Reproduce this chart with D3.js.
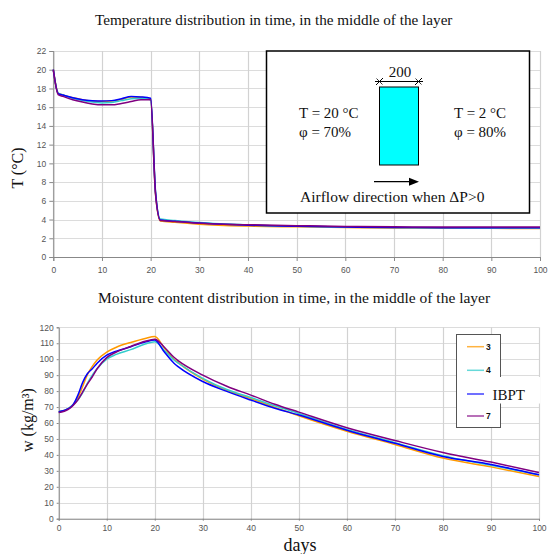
<!DOCTYPE html>
<html>
<head>
<meta charset="utf-8">
<script src="https://cdn.jsdelivr.net/npm/d3@7/dist/d3.min.js"></script>
<style>
  html, body { margin: 0; padding: 0; background: #fff; }
  svg { display: block; }
  .tick text { font-family: "Liberation Sans", Arial, sans-serif; font-size: 8.5px; fill: #555; }
  .serif { font-family: "Liberation Serif", "Times New Roman", serif; fill: #111; }
</style>
</head>
<body>
<svg id="chart" width="548" height="554"></svg>
<script>
// ---- Data ----------------------------------------------------------------
const seriesNames = ["3", "4", "IBPT", "7"];
const seriesColors = ["#ff9900", "#33cccc", "#0000ff", "#800080"];

// Temperature in the middle of the layer (°C)
const tempDays = [0, 1, 2, 4, 6, 8, 10, 12, 14, 16, 18, 20, 21, 22, 25, 30, 40, 50, 60, 70, 80, 90, 100];
const temp3    = [20, 17.5, 17.3, 17.0, 16.8, 16.65, 16.6, 16.65, 16.85, 17.1, 17.05, 16.85, 6.8, 3.85, 3.7, 3.5, 3.3, 3.22, 3.15, 3.1, 3.08, 3.06, 3.05];
const temp4    = [20, 17.5, 17.3, 16.95, 16.7, 16.55, 16.45, 16.5, 16.7, 16.9, 16.95, 16.8, 6.9, 4.05, 3.9, 3.68, 3.42, 3.28, 3.2, 3.15, 3.12, 3.1, 3.1];
const tempIBPT = [20, 17.45, 17.3, 17.0, 16.8, 16.7, 16.65, 16.7, 16.9, 17.15, 17.1, 16.95, 7.0, 3.95, 3.82, 3.62, 3.4, 3.28, 3.2, 3.15, 3.13, 3.12, 3.12];
const temp7    = [20, 17.35, 17.15, 16.8, 16.55, 16.35, 16.25, 16.25, 16.4, 16.6, 16.8, 16.8, 6.7, 3.9, 3.8, 3.6, 3.45, 3.35, 3.27, 3.22, 3.2, 3.2, 3.2];

// Moisture content in the middle of the layer (kg/m³)
const moistDays = [0, 2, 3, 4, 5, 6, 7, 8, 10, 12, 15, 18, 20, 22, 24, 25, 30, 35, 40, 45, 50, 60, 70, 80, 90, 100];
const moist3    = [67, 69, 71.5, 76, 83, 90.5, 95.5, 99.5, 104.5, 107.5, 110.5, 113, 114.2, 107, 100, 97.5, 87.5, 80.5, 75.3, 69.8, 64.5, 54.8, 46.5, 38, 32.5, 26.5];
const moist4    = [67, 69, 71.5, 74.5, 79, 85, 90, 94, 100, 103, 106, 109.5, 111, 105.5, 99.5, 97.3, 88, 81, 76, 70.8, 66, 56, 47.7, 39.5, 33.5, 27.5];
const moistIBPT = [67, 69, 71.5, 77.5, 85.5, 91, 94, 97.5, 102.5, 105, 107.8, 110.8, 112, 104.5, 97.5, 95, 86, 79.8, 74.4, 69.3, 65, 55.5, 47.3, 39, 34, 27.5];
const moist7    = [66.5, 68.5, 71, 74.5, 79.5, 84.5, 89, 94, 101, 104.5, 108, 111.2, 112.5, 107.5, 101.2, 98.8, 90, 83, 77.5, 71.8, 66.8, 57, 49, 41.5, 35.5, 29];

const tempTicks  = d3.range(0, 23, 2);
const moistTicks = d3.range(0, 121, 10);
const dayTicks   = d3.range(0, 101, 10);

// ---- Setup ---------------------------------------------------------------
const svg = d3.select("#chart");
svg.append("rect").attr("width", 548).attr("height", 554).attr("fill", "#fff");

function drawPanel(opts) {
  const { x, y, yTicks, xLabelDy, yLabelGap, tickLen } = opts;
  const g = svg.append("g");

  // horizontal gridlines
  g.append("g").selectAll("line").data(yTicks).join("line")
    .attr("x1", x.range()[0]).attr("x2", x.range()[1])
    .attr("y1", d => Math.round(y(d)) + 0.5).attr("y2", d => Math.round(y(d)) + 0.5)
    .attr("stroke", "#dcdcdc").attr("stroke-width", 1);
  // vertical gridlines
  g.append("g").selectAll("line").data(dayTicks).join("line")
    .attr("x1", d => Math.round(x(d)) + 0.5).attr("x2", d => Math.round(x(d)) + 0.5)
    .attr("y1", y.range()[0]).attr("y2", y.range()[1])
    .attr("stroke", "#d2d2d2").attr("stroke-width", 1.2);

  // axes
  const xAxis = d3.axisBottom(x).tickValues(dayTicks).tickSize(tickLen).tickPadding(xLabelDy);
  const yAxis = d3.axisLeft(y).tickValues(yTicks).tickSize(tickLen).tickPadding(yLabelGap);
  const gx = g.append("g").attr("transform", `translate(0,${y.range()[0]})`).call(xAxis);
  const gy = g.append("g").attr("transform", `translate(${x.range()[0]},0)`).call(yAxis);
  [gx, gy].forEach(a => {
    a.select(".domain").attr("stroke", "#888");
    a.selectAll(".tick line").attr("stroke", "#888");
  });
  return g;
}

function drawLines(x, y, days, seriesList) {
  const line = d3.line().x((d, i) => x(days[i])).y(d => y(d)).curve(d3.curveMonotoneX);
  const g = svg.append("g").attr("fill", "none");
  seriesList.forEach((vals, k) => {
    g.append("path").attr("d", line(vals))
      .attr("stroke", seriesColors[k]).attr("stroke-width", 1.5)
      .attr("stroke-linejoin", "round");
  });
}

// ---- Temperature panel --------------------------------------------------
const xT = d3.scaleLinear().domain([0, 100]).range([53.3, 540]);
const yT = d3.scaleLinear().domain([0, 22]).range([257, 51]);
drawPanel({ x: xT, y: yT, yTicks: tempTicks, xLabelDy: 6, yLabelGap: 3, tickLen: 4 });
drawLines(xT, yT, tempDays, [temp3, temp4, tempIBPT, temp7]);

svg.append("text").attr("class", "serif").attr("x", 95).attr("y", 25)
  .attr("font-size", 15.2).text("Temperature distribution in time, in the middle of the layer");
svg.append("text").attr("class", "serif").attr("font-size", 16)
  .attr("text-anchor", "middle")
  .attr("transform", "translate(23,168) rotate(-90)")
  .text("T (°C)");

// Inset sketch of the layer and boundary conditions
const inset = svg.append("g");
inset.append("rect").attr("x", 266.5).attr("y", 51).attr("width", 263).attr("height", 162)
  .attr("fill", "#fff").attr("stroke", "#000").attr("stroke-width", 1.5);
inset.append("rect").attr("x", 379.5).attr("y", 87).attr("width", 39).attr("height", 78)
  .attr("fill", "#00ffff").attr("stroke", "#000").attr("stroke-width", 1);
// dimension line
inset.append("line").attr("x1", 375).attr("x2", 423).attr("y1", 81.5).attr("y2", 81.5)
  .attr("stroke", "#000").attr("stroke-width", 1);
[379.5, 418.5].forEach(cx => {
  inset.append("line").attr("x1", cx - 3.5).attr("x2", cx + 3.5).attr("y1", 85).attr("y2", 78)
    .attr("stroke", "#000").attr("stroke-width", 1);
  inset.append("line").attr("x1", cx - 3).attr("x2", cx + 3).attr("y1", 78.5).attr("y2", 84.5)
    .attr("stroke", "#000").attr("stroke-width", 0.8);
});
inset.append("text").attr("class", "serif").attr("x", 400).attr("y", 77)
  .attr("text-anchor", "middle").attr("font-size", 15).text("200");
inset.append("text").attr("class", "serif").attr("x", 299).attr("y", 118).attr("font-size", 15).text("T = 20 °C");
inset.append("text").attr("class", "serif").attr("x", 299).attr("y", 137).attr("font-size", 15).text("φ = 70%");
inset.append("text").attr("class", "serif").attr("x", 454).attr("y", 118).attr("font-size", 15).text("T = 2 °C");
inset.append("text").attr("class", "serif").attr("x", 454).attr("y", 137).attr("font-size", 15).text("φ = 80%");
// airflow arrow
inset.append("line").attr("x1", 374).attr("x2", 411).attr("y1", 181.7).attr("y2", 181.7)
  .attr("stroke", "#000").attr("stroke-width", 1.2);
inset.append("path").attr("d", "M409,177.7 L419,181.7 L409,185.7 Z").attr("fill", "#000");
inset.append("text").attr("class", "serif").attr("x", 300).attr("y", 202).attr("font-size", 15.5)
  .text("Airflow direction when ΔP>0");

// ---- Moisture panel -----------------------------------------------------
const xM = d3.scaleLinear().domain([0, 100]).range([58.7, 539]);
const yM = d3.scaleLinear().domain([0, 120]).range([518.7, 327.3]);
drawPanel({ x: xM, y: yM, yTicks: moistTicks, xLabelDy: 4, yLabelGap: 3, tickLen: 2 });
drawLines(xM, yM, moistDays, [moist3, moist4, moistIBPT, moist7]);

svg.append("text").attr("class", "serif").attr("x", 98).attr("y", 303)
  .attr("font-size", 15.5).text("Moisture content distribution in time, in the middle of the layer");
svg.append("text").attr("class", "serif").attr("font-size", 16)
  .attr("text-anchor", "middle")
  .attr("transform", "translate(33,420) rotate(-90)")
  .text("w (kg/m³)");
svg.append("text").attr("class", "serif").attr("x", 300).attr("y", 551)
  .attr("text-anchor", "middle").attr("font-size", 18).text("days");

// Legend
const leg = svg.append("g");
leg.append("rect").attr("x", 456.5).attr("y", 334.5).attr("width", 44).attr("height", 93)
  .attr("fill", "#fff").attr("stroke", "#555").attr("stroke-width", 1);
const legY = [346.7, 370.3, 394, 416];
seriesNames.forEach((name, k) => {
  leg.append("line").attr("x1", 467).attr("x2", 484).attr("y1", legY[k]).attr("y2", legY[k])
    .attr("stroke", seriesColors[k]).attr("stroke-width", 1.5).attr("stroke-opacity", 0.75);
  if (name === "IBPT") {
    leg.append("rect").attr("x", 486).attr("y", 377).attr("width", 54).attr("height", 26.5).attr("fill", "#fff");
    leg.append("text").attr("class", "serif").attr("x", 492.5).attr("y", 399.5)
      .attr("font-size", 15).text(name);
  } else {
    leg.append("text").attr("x", 486).attr("y", legY[k] + 3)
      .attr("font-family", "Liberation Sans, Arial, sans-serif").attr("font-weight", "bold")
      .attr("font-size", 8.5).attr("fill", "#111").text(name);
  }
});
</script>
</body>
</html>
